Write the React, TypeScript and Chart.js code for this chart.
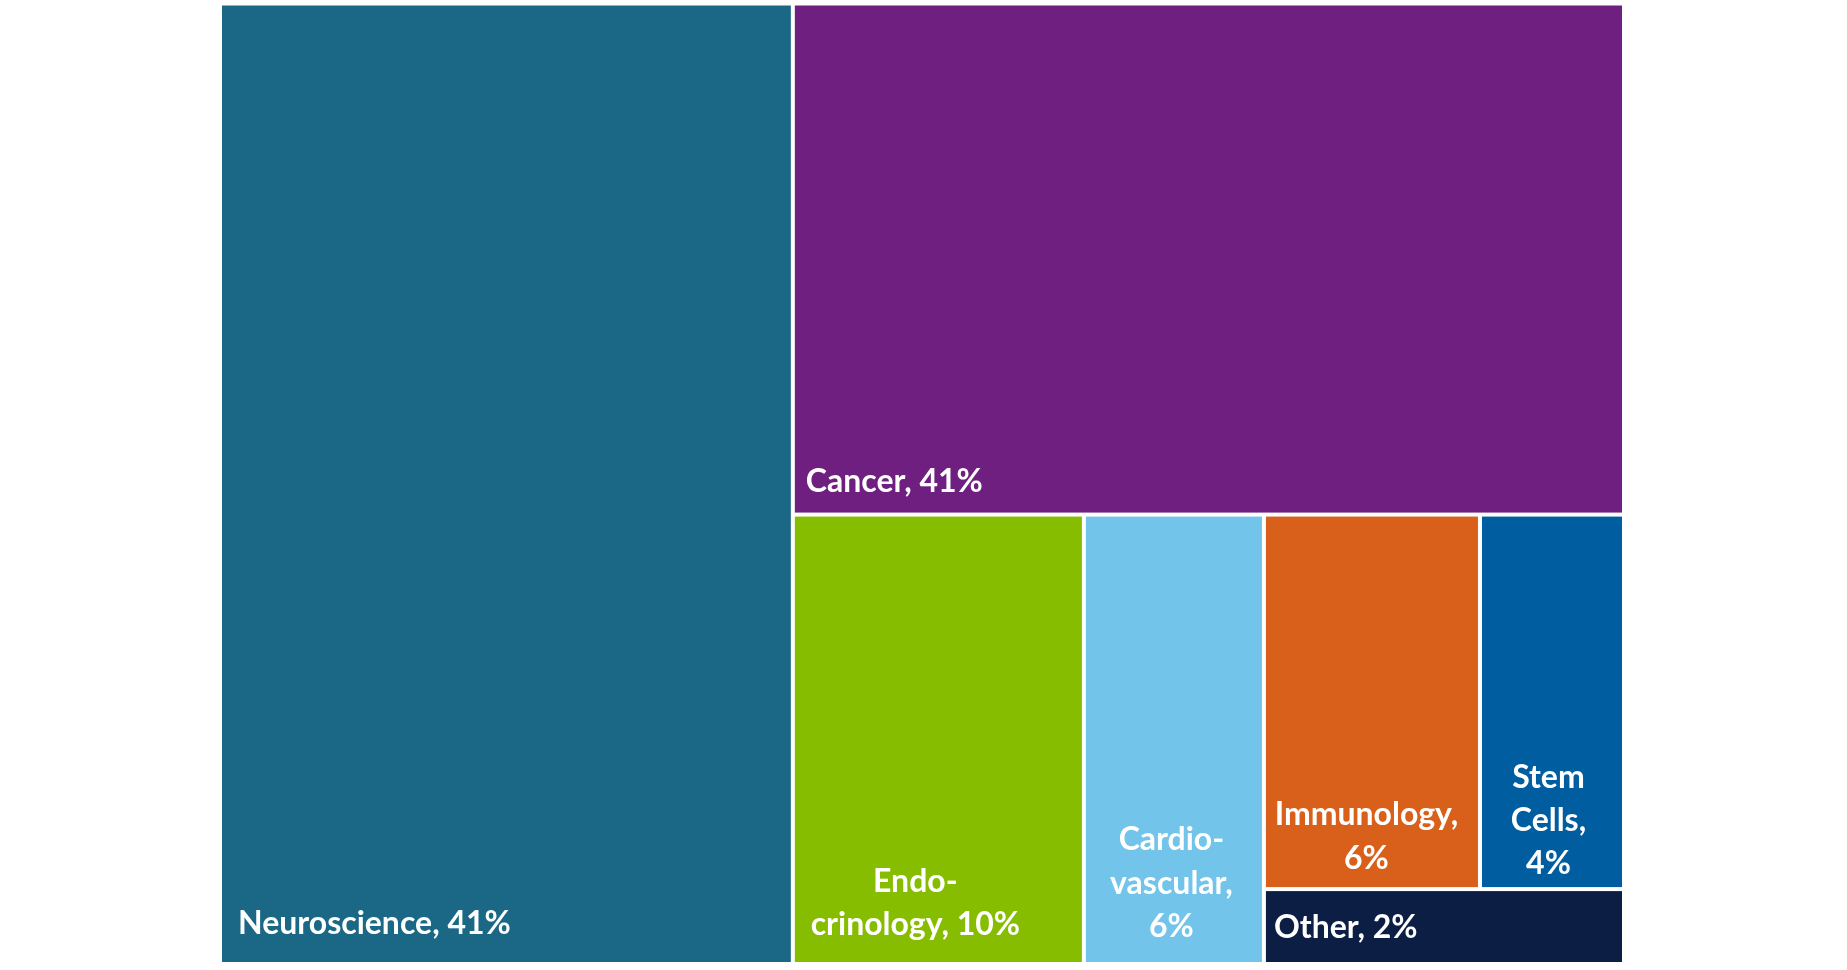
import React, { useEffect, useRef } from "react";
import { Chart, registerables } from "chart.js";

Chart.register(...registerables);

// ---- data ----
const categories = [
  "Neuroscience",
  "Cancer",
  "Endocrinology",
  "Cardiovascular",
  "Immunology",
  "Stem Cells",
  "Other",
];
// area shares (percent of total)
const shareValues = [40.8, 31.5, 9.7, 6.0, 6.0, 4.0, 2.0];
// label text as printed in the picture
const labelLines = [
  ["Neuroscience, 41%"],
  ["Cancer, 41%"],
  ["Endo-", "crinology, 10%"],
  ["Cardio-", "vascular,", "6%"],
  ["Immunology,", "6%"],
  ["Stem", "Cells,", "4%"],
  ["Other, 2%"],
];
const cellColors = [
  "#1a6786",
  "#6f1f7f",
  "#86bd00",
  "#72c4ea",
  "#d9601a",
  "#005da0",
  "#0c1e44",
];

// ---- layout structure (slice and dice, proportional to the values) ----
type Node = number | { dir: "x" | "y"; kids: Node[] };
const layoutTree: Node = {
  dir: "x",
  kids: [
    0,
    {
      dir: "y",
      kids: [
        1,
        {
          dir: "x",
          kids: [2, 3, { dir: "y", kids: [{ dir: "x", kids: [4, 5] }, 6] }],
        },
      ],
    },
  ],
};

// ---- label placement style ----
const labelPlacement = [
  { mode: "left", dx: 16, dy: 28.5 },
  { mode: "left", dx: 11, dy: 21 },
  { mode: "center", dx: -23, dy: 27 },
  { mode: "center", dx: -2.5, dy: 25 },
  { mode: "center", dx: -5.5, dy: 18.3 },
  { mode: "center", dx: -3.5, dy: 12.7 },
  { mode: "left", dx: 8, dy: 24 },
];

type Rect = { x0: number; x1: number; y0: number; y1: number };

function nodeSum(n: Node): number {
  if (typeof n === "number") return shareValues[n];
  return n.kids.reduce((s, k) => s + nodeSum(k), 0);
}

function layout(n: Node, r: Rect, out: Rect[]) {
  if (typeof n === "number") {
    out[n] = r;
    return;
  }
  const total = nodeSum(n);
  let acc = 0;
  for (const k of n.kids) {
    const f0 = acc / total;
    acc += nodeSum(k);
    const f1 = acc / total;
    if (n.dir === "x") {
      const w = r.x1 - r.x0;
      layout(k, { x0: r.x0 + w * f0, x1: r.x0 + w * f1, y0: r.y0, y1: r.y1 }, out);
    } else {
      const h = r.y1 - r.y0;
      layout(k, { x0: r.x0, x1: r.x1, y0: r.y0 + h * f0, y1: r.y0 + h * f1 }, out);
    }
  }
}

const GAP = 4;
const FONT = "700 32px Lato";
const LINE_H = 43.3;

const treemapPlugin = {
  id: "treemapCells",
  afterDatasetsDraw(chart: any) {
    const ctx = chart.ctx as CanvasRenderingContext2D;
    const sx = chart.scales.x;
    const sy = chart.scales.y;
    const rects: Rect[] = [];
    layout(layoutTree, { x0: 0, x1: 100, y0: 0, y1: 100 }, rects);
    ctx.save();
    rects.forEach((r, i) => {
      const left = sx.getPixelForValue(r.x0) + GAP / 2;
      const right = sx.getPixelForValue(r.x1) - GAP / 2;
      const top = sy.getPixelForValue(r.y0) + GAP / 2;
      const bottom = sy.getPixelForValue(r.y1) - GAP / 2;
      ctx.fillStyle = cellColors[i];
      ctx.fillRect(left, top, right - left, bottom - top);
    });
    ctx.fillStyle = "#ffffff";
    ctx.font = FONT;
    ctx.textBaseline = "alphabetic";
    rects.forEach((r, i) => {
      const left = sx.getPixelForValue(r.x0) + GAP / 2;
      const right = sx.getPixelForValue(r.x1) - GAP / 2;
      const bottom = sy.getPixelForValue(r.y1) - GAP / 2;
      const p = labelPlacement[i];
      const lines = labelLines[i];
      const n = lines.length;
      lines.forEach((line, j) => {
        const y = bottom - p.dy - (n - 1 - j) * LINE_H;
        if (p.mode === "left") {
          ctx.textAlign = "left";
          ctx.fillText(line, left + p.dx, y);
        } else {
          ctx.textAlign = "center";
          ctx.fillText(line, (left + right) / 2 + p.dx, y);
        }
      });
    });
    ctx.restore();
  },
};

export default function App() {
  const ref = useRef<HTMLCanvasElement | null>(null);
  useEffect(() => {
    if (!ref.current) return;
    const chart = new Chart(ref.current, {
      type: "scatter",
      data: {
        labels: categories,
        datasets: [{ label: "Share", data: [], pointRadius: 0 }],
      },
      options: {
        responsive: false,
        maintainAspectRatio: false,
        animation: false,
        devicePixelRatio: 1,
        layout: { padding: { left: 220, right: 223, top: 3.5, bottom: 6 } },
        scales: {
          x: { type: "linear", min: 0, max: 100, display: false },
          y: { type: "linear", min: 0, max: 100, reverse: true, display: false },
        },
        plugins: {
          legend: { display: false },
          tooltip: { enabled: false },
        },
      },
      plugins: [treemapPlugin],
    });
    return () => chart.destroy();
  }, []);
  return (
    <div style={{ position: "absolute", left: 0, top: 0, width: 1847, height: 970, background: "#ffffff" }}>
      <canvas ref={ref} width={1847} height={970} style={{ display: "block" }} />
    </div>
  );
}
